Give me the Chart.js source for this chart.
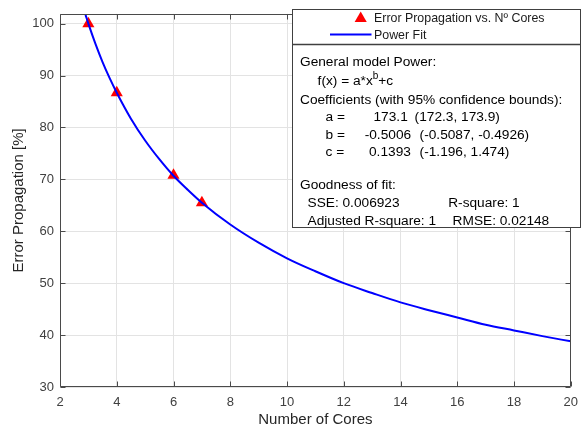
<!DOCTYPE html>
<html><head><meta charset="utf-8">
<script src="https://cdn.jsdelivr.net/npm/chart.js@4.4.1/dist/chart.umd.min.js"></script>
<style>html,body{margin:0;padding:0;background:#fff}#wrap{width:586px;height:432px;position:relative}</style>
</head><body><div id="wrap"><canvas id="c" width="586" height="432"></canvas></div>
<script>
// ---- data ----
const coresX = [3, 4, 6, 7];
const errorProp = [100.0, 86.7, 70.8, 65.5];
const fitX = [2.9, 3, 3.25, 3.5, 3.75, 4, 4.5, 5, 5.5, 6, 6.5, 7, 8, 9, 10, 11, 12, 13, 14, 15, 16, 17, 18, 19, 20];
const fitY = [101.7, 100.0, 96.1, 92.6, 89.5, 86.7, 81.7, 77.5, 73.9, 70.7, 68.0, 65.5, 61.3, 57.8, 54.8, 52.3, 50.0, 48.1, 46.3, 44.8, 43.4, 42.0, 40.9, 39.8, 38.8];
const xTicks = [2, 4, 6, 8, 10, 12, 14, 16, 18, 20];
const yTicks = [30, 40, 50, 60, 70, 80, 90, 100];
const legendLabels = ['Error Propagation vs. N\u00ba Cores', 'Power Fit'];
const fitInfo = {
  model: 'General model Power:',
  formula: ['f(x) = a*x', 'b', '+c'],
  coefTitle: 'Coefficients (with 95% confidence bounds):',
  coefs: [['a =', '173.1', '(172.3, 173.9)'], ['b =', '-0.5006', '(-0.5087, -0.4926)'], ['c =', '0.1393', '(-1.196, 1.474)']],
  gofTitle: 'Goodness of fit:',
  gof: [['SSE: 0.006923', 'R-square: 1'], ['Adjusted R-square: 1', 'RMSE: 0.02148']]
};

const FONT = '"Liberation Sans", Arial, Helvetica, sans-serif';
const AXIS_COLOR = '#4a4a4a';

const boxPlugin = {
  id: 'matlabBox',
  afterDatasetsDraw(chart) {
    const ctx = chart.ctx, a = chart.chartArea;
    const xs = chart.scales.x, ys = chart.scales.y;
    ctx.save();
    ctx.strokeStyle = AXIS_COLOR; ctx.lineWidth = 1;
    ctx.beginPath();
    const L = Math.round(a.left) + 0.5, R = Math.round(a.right) - 0.5, T = Math.round(a.top) + 0.5, B = Math.round(a.bottom) - 0.5;
    ctx.moveTo(L, T); ctx.lineTo(R, T); ctx.lineTo(R, B); ctx.lineTo(L, B); ctx.closePath();
    const tl = 5;
    xTicks.forEach(v => { const p = Math.round(xs.getPixelForValue(v)) + 0.5; ctx.moveTo(p, B); ctx.lineTo(p, B - tl); ctx.moveTo(p, T); ctx.lineTo(p, T + tl); });
    yTicks.forEach(v => { const p = Math.round(ys.getPixelForValue(v)) + 0.5; ctx.moveTo(L, p); ctx.lineTo(L + tl, p); ctx.moveTo(R, p); ctx.lineTo(R - tl, p); });
    ctx.stroke();
    ctx.restore();
  },
  afterDraw(chart) {
    const ctx = chart.ctx;
    ctx.save();
    // legend box
    const bx = 292.5, bw = 288, ly0 = 9.5, ly1 = 44.5, by1 = 227.5;
    ctx.fillStyle = '#fff';
    ctx.fillRect(bx, ly0, bw, by1 - ly0);
    ctx.strokeStyle = '#404040'; ctx.lineWidth = 1;
    ctx.strokeRect(bx, ly0, bw, ly1 - ly0);
    ctx.strokeRect(bx, ly1, bw, by1 - ly1);
    ctx.beginPath(); ctx.moveTo(bx, ly1); ctx.lineTo(bx + bw, ly1); ctx.lineWidth = 1.6; ctx.stroke();
    // legend entries
    const ds0 = chart.data.datasets[1];
    Chart.helpers.drawPoint(ctx, { pointStyle: 'triangle', radius: 7, borderWidth: 0, rotation: 0 }, 360.7, 18.5);
    ctx.fillStyle = ds0.pointBackgroundColor; ctx.fill();
    ctx.beginPath(); ctx.moveTo(330, 34.5); ctx.lineTo(371.5, 34.5);
    ctx.strokeStyle = chart.data.datasets[0].borderColor; ctx.lineWidth = 2; ctx.stroke();
    ctx.fillStyle = '#1a1a1a'; ctx.textBaseline = 'middle'; ctx.textAlign = 'left';
    ctx.font = '12.4px ' + FONT;
    ctx.fillText(legendLabels[0], 374, 19);
    ctx.fillText(legendLabels[1], 374, 35.5);
    // fit info text
    ctx.fillStyle = '#000';
    const f = '13.7px ' + FONT;
    ctx.font = f;
    ctx.fillText(fitInfo.model, 300, 62);
    let x = 317.6;
    ctx.fillText(fitInfo.formula[0], x, 81); x += ctx.measureText(fitInfo.formula[0]).width;
    ctx.font = '10px ' + FONT; ctx.fillText(fitInfo.formula[1], x, 76); x += ctx.measureText(fitInfo.formula[1]).width;
    ctx.font = f; ctx.fillText(fitInfo.formula[2], x, 81);
    ctx.fillText(fitInfo.coefTitle, 300, 100);
    const valX = [373.5, 364.7, 369];
    const ciX = [414.6, 419.6, 419.6];
    const cy = [117.5, 135, 152];
    fitInfo.coefs.forEach((c, i) => {
      ctx.fillText(c[0], 325.5, cy[i]);
      ctx.fillText(c[1], valX[i], cy[i]);
      ctx.fillText(c[2], ciX[i], cy[i]);
    });
    ctx.fillText(fitInfo.gofTitle, 300, 185.5);
    ctx.fillText(fitInfo.gof[0][0], 307.5, 203.5); ctx.fillText(fitInfo.gof[0][1], 448.2, 203.5);
    ctx.fillText(fitInfo.gof[1][0], 307.5, 221.5); ctx.fillText(fitInfo.gof[1][1], 452.6, 221.5);
    ctx.restore();
  }
};

new Chart(document.getElementById('c'), {
  type: 'scatter',
  data: {
    datasets: [
      { label: legendLabels[1], data: fitX.map((v, i) => ({ x: v, y: fitY[i] })), showLine: true, borderColor: '#0000ff', borderWidth: 2, pointRadius: 0, cubicInterpolationMode: 'monotone', order: 0 },
      { label: legendLabels[0], data: coresX.map((v, i) => ({ x: v, y: errorProp[i] })), pointStyle: 'triangle', pointRadius: 7, pointBackgroundColor: '#ff0000', pointBorderWidth: 0, borderColor: '#ff0000', order: 1 }
    ]
  },
  options: {
    responsive: false, animation: false, devicePixelRatio: 1,
    layout: { padding: { left: 0, right: 5, top: 9, bottom: 0 } },
    plugins: { legend: { display: false }, tooltip: { enabled: false } },
    scales: {
      x: {
        type: 'linear', min: 2, max: 20,
        afterBuildTicks: s => { s.ticks = xTicks.map(v => ({ value: v })); },
        afterFit: s => { s.height = 45; },
        grid: { color: '#e3e3e3', drawTicks: false },
        border: { display: false },
        ticks: { padding: 8, color: '#404040', font: { family: FONT, size: 13 } },
        title: { display: true, text: 'Number of Cores', color: '#262626', font: { family: FONT, size: 15 }, padding: { top: 0, bottom: 3 } }
      },
      y: {
        type: 'linear', min: 30, max: 101.9,
        afterBuildTicks: s => { s.ticks = yTicks.map(v => ({ value: v })); },
        afterFit: s => { s.width = 60; },
        grid: { color: '#e3e3e3', drawTicks: false },
        border: { display: false },
        ticks: { padding: 6, color: '#404040', font: { family: FONT, size: 13 } },
        title: { display: true, text: 'Error Propagation [%]', color: '#262626', font: { family: FONT, size: 15 }, padding: { top: 10, bottom: 0 } }
      }
    }
  },
  plugins: [boxPlugin]
});
</script>
</body></html>
